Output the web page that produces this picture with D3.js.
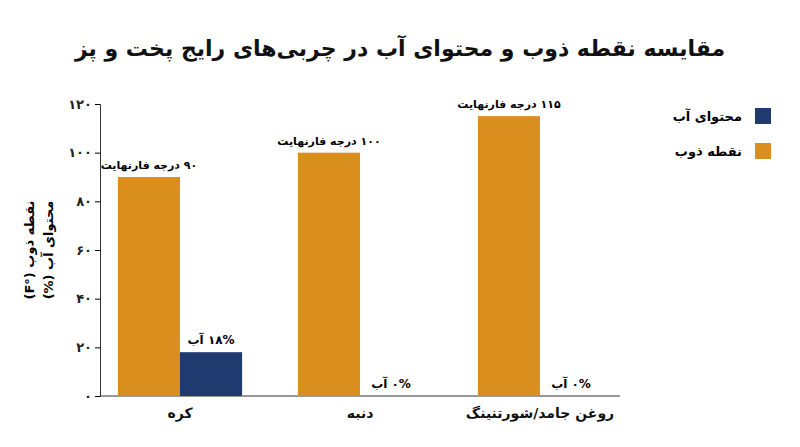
<!DOCTYPE html>
<html><head><meta charset="utf-8">
<script src="https://cdn.jsdelivr.net/npm/d3@7"></script>
<style>body{margin:0;background:#fff}text{font-family:"DejaVu Sans","Noto Sans",sans-serif}</style>
</head><body><svg id="c" width="800" height="447"></svg>
<script>
const categories=["کره","دنبه","روغن جامد/شورتنینگ"];
const meltPoint=[90,100,115];
const waterContent=[18,0,0];
const meltLabels=["۹۰ درجه فارنهایت","۱۰۰ درجه فارنهایت","۱۱۵ درجه فارنهایت"];
const waterLabels=["۱۸% آب","۰% آب","۰% آب"];
const yTicks=[0,20,40,60,80,100,120];
const faDigits=n=>String(n).replace(/\d/g,d=>"۰۱۲۳۴۵۶۷۸۹"[d]);
const orange="#D98E1E",blue="#1F3A6E";
const svg=d3.select("#c");
const m={l:100,r:620,t:104,b:396};
const x=d3.scaleBand().domain(categories).range([m.l-10,m.r+10]).paddingInner(0.31).paddingOuter(0.155);
const sub=d3.scaleBand().domain(["melt","water"]).range([0,x.bandwidth()]);
const y=d3.scaleLinear().domain([0,120]).range([m.b,m.t]);
svg.append("text").attr("x",400).attr("y",56).attr("text-anchor","middle").attr("font-size",22).attr("font-weight","bold").attr("fill","#111").attr("direction","rtl").text("مقایسه نقطه ذوب و محتوای آب در چربی‌های رایج پخت و پز");
const ya=svg.append("g").attr("transform",`translate(${m.l},0)`).call(d3.axisLeft(y).tickValues(yTicks).tickFormat(faDigits).tickSize(5));
ya.selectAll("text").attr("font-size",13).attr("font-weight","bold").attr("fill","#222");
ya.select(".domain").attr("stroke","#333");
const xa=svg.append("g").attr("transform",`translate(0,${m.b})`).call(d3.axisBottom(x).tickSize(0).tickPadding(12));
xa.select(".domain").attr("stroke","#333").attr("d",`M${m.l},0H${m.r}`);
xa.selectAll("text").attr("font-size",14).attr("font-weight","bold").attr("fill","#111");
categories.forEach((c,i)=>{
 const g=svg.append("g").attr("transform",`translate(${x(c)},0)`);
 g.append("rect").attr("x",sub("melt")).attr("width",sub.bandwidth()).attr("y",y(meltPoint[i])).attr("height",y(0)-y(meltPoint[i])).attr("fill",orange);
 g.append("rect").attr("x",sub("water")).attr("width",sub.bandwidth()).attr("y",y(waterContent[i])).attr("height",y(0)-y(waterContent[i])).attr("fill",blue);
 g.append("text").attr("x",sub("melt")+sub.bandwidth()/2).attr("y",y(meltPoint[i])-8).attr("text-anchor","middle").attr("font-size",11).attr("font-weight","bold").attr("direction","rtl").text(meltLabels[i]);
 g.append("text").attr("x",sub("water")+sub.bandwidth()/2).attr("y",y(waterContent[i])-8).attr("text-anchor","middle").attr("font-size",12).attr("font-weight","bold").attr("direction","rtl").text(waterLabels[i]);
});
[["محتوای آب",blue,108],["نقطه ذوب",orange,143]].forEach(([t,c,yy])=>{
 svg.append("rect").attr("x",755).attr("y",yy).attr("width",16).attr("height",16).attr("fill",c);
 svg.append("text").attr("x",742).attr("y",yy+13).attr("text-anchor","start").attr("direction","rtl").attr("font-size",13).attr("font-weight","bold").text(t);
});
[["نقطه ذوب (°F)",34],["محتوای آب (%)",53]].forEach(([t,xx])=>{
 svg.append("text").attr("transform",`translate(${xx},${(m.t+m.b)/2}) rotate(-90)`).attr("text-anchor","middle").attr("direction","rtl").attr("font-size",13).attr("font-weight","bold").text(t);
});
</script></body></html>
